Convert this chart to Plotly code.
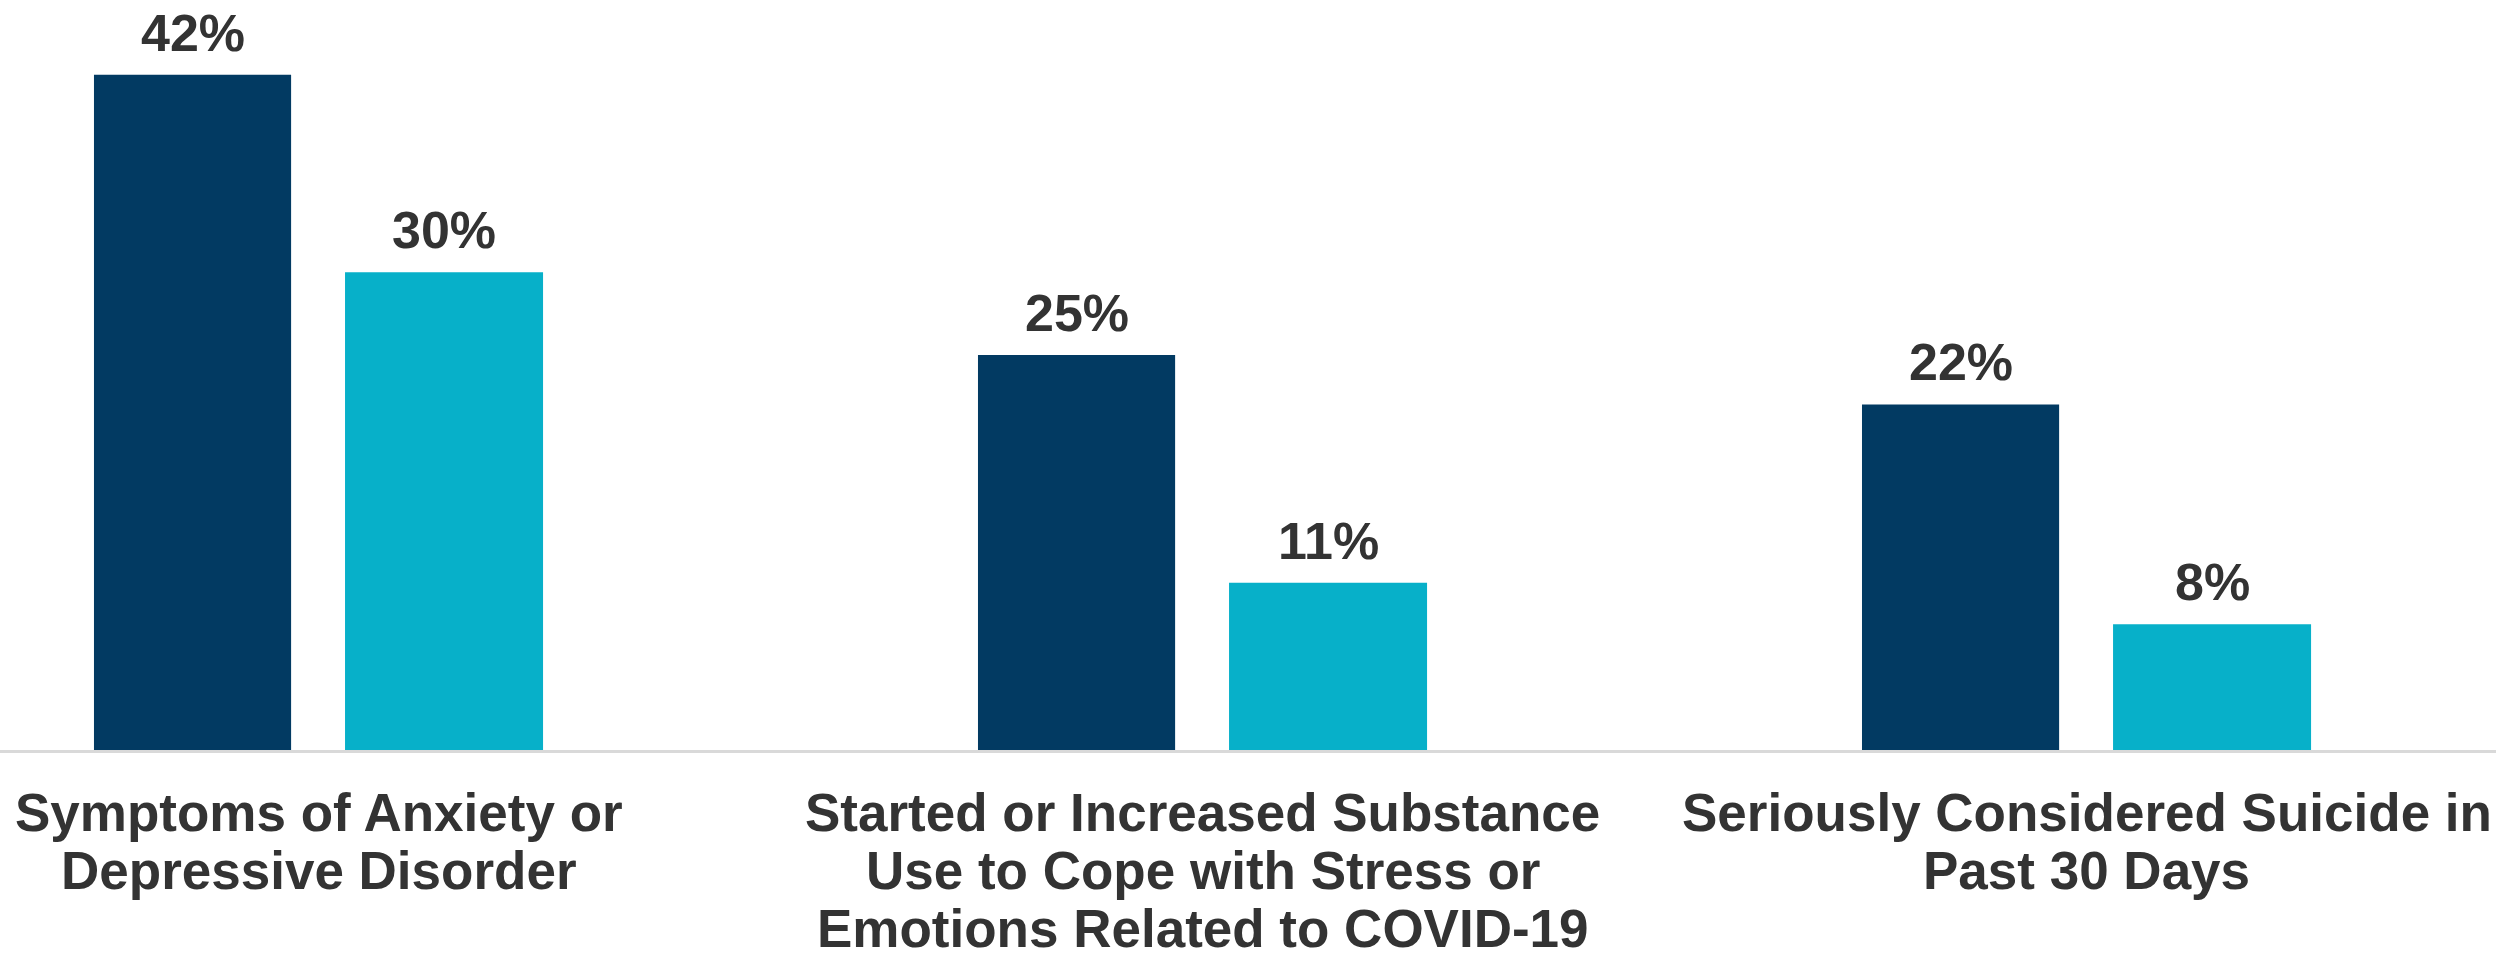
import plotly.graph_objects as go

categories = [
    "Symptoms of Anxiety or<br>Depressive Disorder",
    "Started or Increased Substance<br>Use to Cope with Stress or<br>Emotions Related to COVID-19",
    "Seriously Considered Suicide in<br>Past 30 Days",
]
# bar heights (labels are the rounded values shown)
series_a = [42.4, 24.8, 21.7]
series_b = [30.0, 10.5, 7.9]
series_a_labels = ["42%", "25%", "22%"]
series_b_labels = ["30%", "11%", "8%"]

DARK = "#023A62"
TEAL = "#07B0C9"
TEXT = "#333333"
FONT = "Liberation Sans, Arial, sans-serif"

W_A, OFF_A = 0.223, -0.254
W_B, OFF_B = 0.224, 0.030

fig = go.Figure()
fig.add_trace(go.Bar(x=list(range(len(categories))), y=series_a, width=W_A, offset=OFF_A,
                     marker=dict(color=DARK, line=dict(width=0)), hoverinfo="skip"))
fig.add_trace(go.Bar(x=list(range(len(categories))), y=series_b, width=W_B, offset=OFF_B,
                     marker=dict(color=TEAL, line=dict(width=0)), hoverinfo="skip"))

annotations = []
for i in range(len(categories)):
    for vals, labs, w, off in ((series_a, series_a_labels, W_A, OFF_A), (series_b, series_b_labels, W_B, OFF_B)):
        annotations.append(dict(x=i + off + w / 2, y=vals[i], xref="x", yref="y", text=labs[i],
                                showarrow=False, yanchor="bottom", xanchor="center", yshift=11,
                                font=dict(family=FONT, size=52, color=TEXT, weight="bold")))
    for j, line in enumerate(categories[i].split("<br>")):
        annotations.append(dict(x=i, y=0, xref="x", yref="paper", text=line, showarrow=False,
                                yanchor="top", xanchor="center", yshift=-(31 + j * 58),
                                font=dict(family=FONT, size=53, color=TEXT, weight="bold")))

fig.update_layout(
    width=2496, height=958,
    margin=dict(l=0, r=0, t=0, b=208),
    paper_bgcolor="white", plot_bgcolor="white",
    barmode="overlay", showlegend=False,
    annotations=annotations,
    xaxis=dict(range=[-0.3603, 2.4632], showticklabels=False, showgrid=False, zeroline=False,
               showline=True, linecolor="#D9D9D9", linewidth=3, ticks=""),
    yaxis=dict(range=[0, 47.1], visible=False, showgrid=False, zeroline=False),
)

fig.write_html("out.html", config={"displayModeBar": False})
